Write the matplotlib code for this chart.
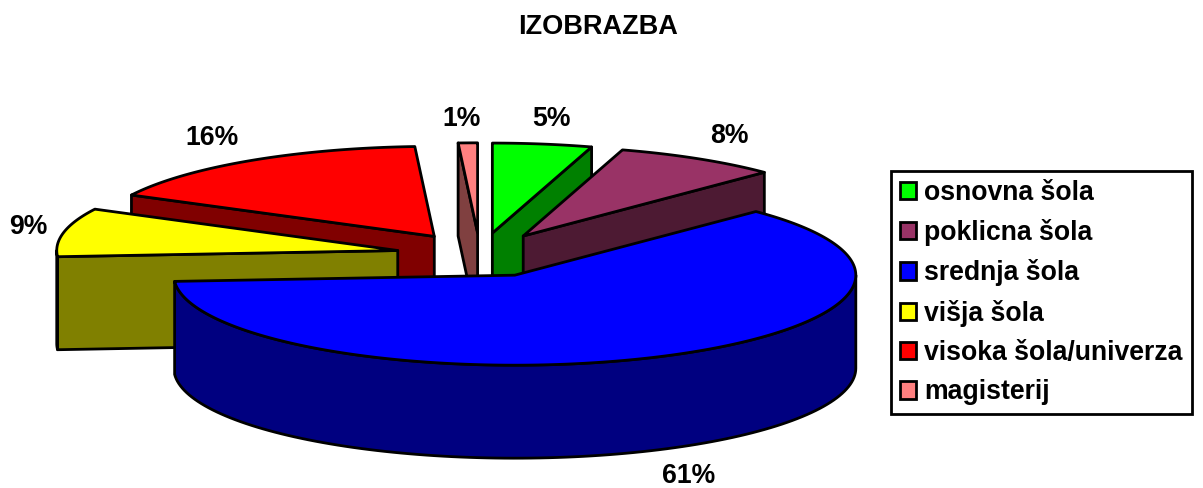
import numpy as np
import matplotlib
matplotlib.use('Agg')
import matplotlib.pyplot as plt
from matplotlib.patches import Polygon, Patch

plt.rcParams['font.family'] = ['Liberation Sans', 'DejaVu Sans']
plt.rcParams['font.weight'] = 'bold'

# Data (slice sizes estimated from the angles, labels round them)
categories = ['osnovna šola', 'poklicna šola', 'srednja šola', 'višja šola',
              'visoka šola/univerza', 'magisterij']
values = [4.7, 7.8, 61.4, 8.7, 16.49, 0.91]
top_colors = ['#00FF00', '#993366', '#0000FF', '#FFFF00', '#FF0000', '#FF8080']
side_colors = ['#008000', '#4D1A33', '#000080', '#808000', '#800000', '#804040']
title = 'IZOBRAZBA'
# where each percent label sits, in pixels
label_pos = [(551, 119), (729, 136), (689, 476), (28, 227), (212, 138), (462, 119)]

# Pie geometry in pixels
cx, cy = 480, 255
rx, ry = 341, 90
depth = 93
explode = 84
lw = 2.0

fig = plt.figure(figsize=(12.03, 4.88), dpi=100)
ax = fig.add_axes([0, 0, 1, 1])
ax.set_xlim(0, 1203)
ax.set_ylim(488, 0)
ax.axis('off')

fractions = np.array(values) / sum(values)
edges = np.concatenate([[0], np.cumsum(fractions)]) * 2 * np.pi


def rim(theta, ox, oy):
    # angle runs clockwise from 12 o'clock
    return np.column_stack([ox + rx * np.sin(theta), oy - ry * np.cos(theta)])


def face(points, color, z):
    ax.add_patch(Polygon(points, closed=True, facecolor=color, edgecolor='black',
                         linewidth=lw, joinstyle='round', zorder=z))


# back to front, the big front slice goes last
order = [5, 4, 0, 1, 3, 2]
for z, i in enumerate(order):
    a0, a1 = edges[i], edges[i + 1]
    mid = (a0 + a1) / 2
    ox = cx + explode * np.sin(mid)
    oy = cy - explode * ry / rx * np.cos(mid)
    apex = np.array([[ox, oy]])
    down = np.array([0, depth])
    z0 = z * 3 + 1

    # flat cut faces, only the ones turned to the viewer
    if np.sin(a0) < 0:
        p = rim(np.array([a0]), ox, oy)
        face(np.vstack([apex, p, p + down, apex + down]), side_colors[i], z0)
    if np.sin(a1) > 1e-6:
        p = rim(np.array([a1]), ox, oy)
        face(np.vstack([apex, p, p + down, apex + down]), side_colors[i], z0)

    # outer wall, front half of the ellipse only
    lo, hi = max(a0, np.pi / 2), min(a1, 3 * np.pi / 2)
    if hi > lo:
        t = np.linspace(lo, hi, 120)
        arc = rim(t, ox, oy)
        face(np.vstack([arc, (arc + down)[::-1]]), side_colors[i], z0 + 1)

    # top
    t = np.linspace(a0, a1, 200)
    face(np.vstack([apex, rim(t, ox, oy)]), top_colors[i], z0 + 2)

for v, (x, y) in zip(values, label_pos):
    ax.text(x, y, f'{v:.0f}%', ha='center', va='center', fontsize=19.2, color='black', zorder=50)

ax.text(598, 27, title, ha='center', va='center', fontsize=19.5, color='black')

handles = [Patch(facecolor=c, edgecolor='black', linewidth=2) for c in top_colors]
leg = ax.legend(handles, categories, loc='upper left',
                bbox_to_anchor=(891 / 1203, 1 - 171 / 488),
                fontsize=19.2, frameon=True, fancybox=False, framealpha=1,
                edgecolor='black', borderpad=0.33, labelspacing=0.5,
                handlelength=0.62, handleheight=0.62, handletextpad=0.3,
                borderaxespad=0)
leg.get_frame().set_linewidth(2)
leg.set_zorder(60)

fig.savefig('out.png', dpi=100)
